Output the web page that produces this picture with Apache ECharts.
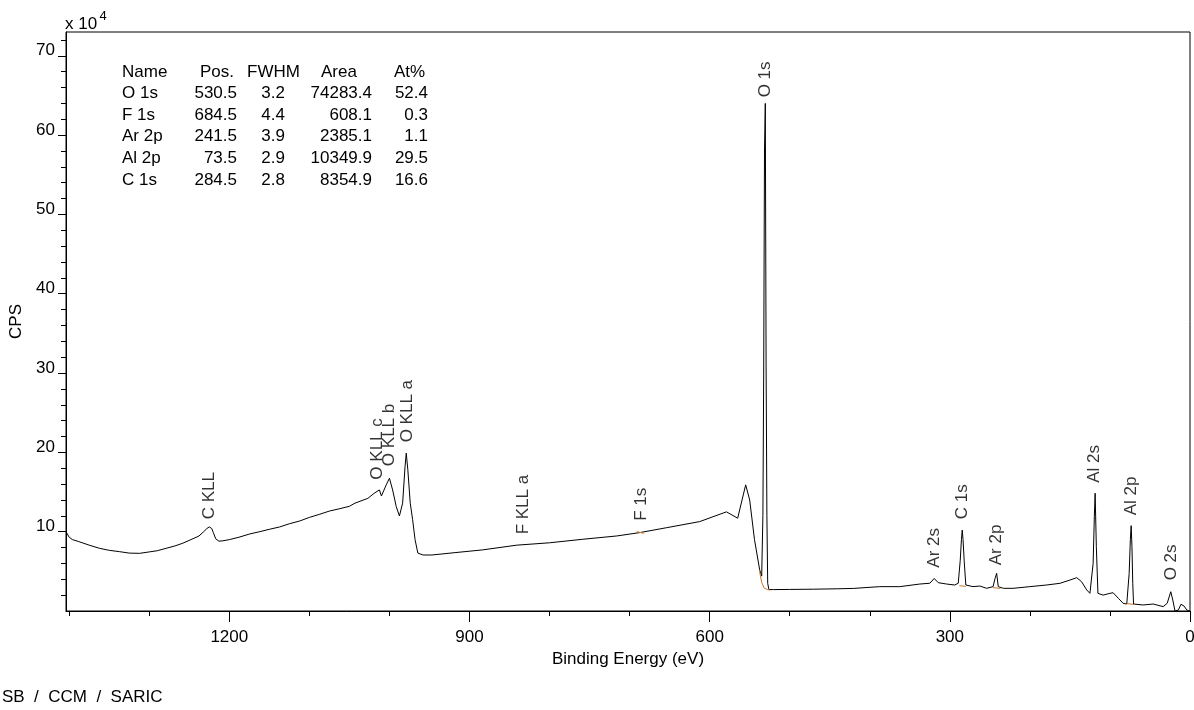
<!DOCTYPE html>
<html><head><meta charset="utf-8">
<script src="https://cdn.jsdelivr.net/npm/echarts@6/dist/echarts.min.js"></script>
<style>html,body{margin:0;padding:0;background:#fff}#c{width:1194px;height:710px}</style>
</head><body><div id="c"></div>
<script>
// Spectrum: binding energy (eV) and counts (x 10^4 CPS)
const energies = [1404,1400,1396,1388,1375,1362,1350,1337,1325,1312,1300,1290,1279,1268,1258,1248,1238,1232,1228,1225,1222,1220,1217,1213,1208,1200,1188,1175,1162,1150,1137,1125,1112,1100,1087,1075,1062,1050,1043,1027,1019,1012.5,1010,1004,1000,996,991.5,987.5,983.5,980.5,979,977,974,971,968,964.5,958,947,918,884,841,800,759,716,687.5,654,612.5,579,565,555,550,544,537.5,535,533.5,532.5,531.5,530.5,529.5,528.5,527.5,526,520,500,470,440,420,387.5,362.5,337.5,325,319.5,314.5,304,294,289.5,287,285.5,284.5,283.5,282,280,271,262.5,254,246,243.5,241.5,239.5,233,221,200,179,162.5,150,141.5,135.5,129,125,121,119.5,118.5,117,115,108.5,100,96,89.5,83.5,79,76,74.5,73.5,72.5,71.5,70.5,58.5,46,33.5,28.5,24,21.5,18.75,14.5,11.25,7.5,4,1,0];
const counts   = [10.0,9.3,9.0,8.75,8.3,7.9,7.65,7.48,7.3,7.27,7.45,7.6,7.9,8.2,8.55,9.0,9.45,10.0,10.4,10.6,10.4,9.9,9.1,8.8,8.85,9.0,9.3,9.7,10.0,10.3,10.6,11.0,11.35,11.8,12.2,12.6,12.9,13.2,13.6,14.2,14.85,15.26,14.5,15.9,16.74,15.26,13.16,11.98,13.6,18.2,19.9,17.8,13.6,11.5,9.0,7.3,7.06,7.06,7.36,7.7,8.3,8.6,9.04,9.46,9.88,10.5,11.27,12.5,11.7,15.9,14.0,9.0,5.17,4.4,12,30,58,64,31,12,3.5,2.7,2.7,2.72,2.75,2.8,2.85,3.07,3.07,3.4,3.5,4.1,3.57,3.4,3.28,3.5,6.4,9.0,10.2,9.0,6.2,3.28,3.07,3.15,2.86,3.07,4.1,4.75,3.07,2.86,2.86,3.07,3.28,3.49,3.9,4.2,3.7,2.65,2.23,6.0,11.9,14.85,8.1,2.23,2.0,2.23,2.3,1.6,0.97,0.88,4.75,9.0,10.76,8.1,3.5,0.88,0.76,0.88,0.55,0.97,2.43,1.39,0,0.13,0.85,0.63,0.13,0,0];

// Fitted backgrounds (orange)
const bgO1sE = [538,535,532,528,525];   const bgO1sV = [5.2,3.6,2.9,2.7,2.65];
const bgF1sE = [691,682];               const bgF1sV = [10.0,9.8];
const bgC1sE = [288,280];               const bgC1sV = [3.2,3.1];
const bgAr2pE = [246,237];              const bgAr2pV = [2.95,2.85];
const bgAl2pE = [79,69];                const bgAl2pV = [0.95,0.8];

// Peak annotations
const peakLabels      = ['C KLL','O KLL c','O KLL b','O KLL a','F KLL a','F 1s','O 1s','Ar 2s','C 1s','Ar 2p','Al 2s','Al 2p','O 2s'];
const peakLabelEnergy = [1225,1015.5,1000,977.5,832.5,685.5,530.5,320,284.5,241.5,119.5,73.5,23];
const peakLabelHeight = [11.5,16.5,18.2,21.2,9.6,11.3,64.7,5.4,11.5,5.7,16.1,12.0,3.8];

// Axis ticks
const xTickMajor = [0,300,600,900,1200];
const xTickMinor = [100,200,400,500,700,800,1000,1100,1300,1400];
const yTickMajor = [10,20,30,40,50,60,70];
const yTickMinor = [2,4,6,8,12,14,16,18,22,24,26,28,32,34,36,38,42,44,46,48,52,54,56,58,62,64,66,68,72];

// Quantification table
const tableHeader = ['Name','Pos.','FWHM','Area','At%'];
const tableNames = ['O 1s','F 1s','Ar 2p','Al 2p','C 1s'];
const tablePos   = [530.5,684.5,241.5,73.5,284.5];
const tableFWHM  = [3.2,4.4,3.9,2.9,2.8];
const tableArea  = [74283.4,608.1,2385.1,10349.9,8354.9];
const tableAt    = [52.4,0.3,1.1,29.5,16.6];

const FONT = '"Liberation Sans", Arial, sans-serif';
const chart = echarts.init(document.getElementById('c'), null, {renderer:'canvas'});

function pairs(e, v){ return e.map((x,i)=>[x, v[i]]); }
function bgSeries(e, v){
  return {type:'line', data:pairs(e,v), showSymbol:false, symbol:'none', silent:true,
    lineStyle:{color:'#c8782d', width:1}, z:3, animation:false};
}

// table graphics
const g = [];
const rowY0 = 72, rowStep = 21.6;
const txt = (t, x, y, align) => ({type:'text', silent:true, style:{text:t, x:x, y:y, font:'17px '+FONT, fill:'#000', align:align, verticalAlign:'middle'}});
g.push(txt(tableHeader[0],122,rowY0,'left'));
g.push(txt(tableHeader[1],234,rowY0,'right'));
g.push(txt(tableHeader[2],247,rowY0,'left'));
g.push(txt(tableHeader[3],321,rowY0,'left'));
g.push(txt(tableHeader[4],394,rowY0,'left'));
tableNames.forEach((n,i)=>{
  const y = rowY0 + rowStep*(i+1);
  g.push(txt(n,122,y,'left'));
  g.push(txt(tablePos[i].toFixed(1),237,y,'right'));
  g.push(txt(tableFWHM[i].toFixed(1),285,y,'right'));
  g.push(txt(tableArea[i].toFixed(1),372,y,'right'));
  g.push(txt(tableAt[i].toFixed(1),428,y,'right'));
});
g.push({type:'text', silent:true, style:{text:'x 10', x:65, y:24, font:'17px '+FONT, fill:'#000', align:'left', verticalAlign:'middle'}});
g.push({type:'text', silent:true, style:{text:'4', x:99.5, y:16, font:'13px '+FONT, fill:'#000', align:'left', verticalAlign:'middle'}});
g.push({type:'text', silent:true, style:{text:'SB  /  CCM  /  SARIC', x:2, y:697, font:'17px '+FONT, fill:'#000', align:'left', verticalAlign:'middle'}});

const axisBase = {lineStyle:{color:'#000', width:1}};
const option = {
  animation:false,
  backgroundColor:'#fff',
  grid:{left:66, right:4, top:32, bottom:99, show:true, borderColor:'#000', borderWidth:1, backgroundColor:'transparent', containLabel:false, outerBoundsMode:'none'},
  xAxis:[
    {type:'value', min:0, max:1404, inverse:true, position:'bottom',
     axisLine:{show:true, onZero:false, ...axisBase},
     axisTick:{show:true, customValues:xTickMajor, length:11, inside:false, ...axisBase},
     axisLabel:{customValues:xTickMajor, margin:18, fontSize:17, fontFamily:FONT, color:'#000', formatter:(v)=>String(v)},
     splitLine:{show:false},
     name:'Binding Energy (eV)', nameLocation:'middle', nameGap:40,
     nameTextStyle:{fontSize:17, fontFamily:FONT, color:'#000'}},
    {type:'value', min:0, max:1404, inverse:true, position:'bottom', offset:0,
     axisLine:{show:false, onZero:false}, axisTick:{show:true, customValues:xTickMinor, length:5, ...axisBase},
     axisLabel:{show:false}, splitLine:{show:false}}
  ],
  yAxis:[
    {type:'value', min:0, max:73, position:'left',
     axisLine:{show:true, onZero:false, ...axisBase},
     axisTick:{show:true, customValues:yTickMajor, length:8, ...axisBase},
     axisLabel:{customValues:yTickMajor, margin:11, fontSize:17, fontFamily:FONT, color:'#000', verticalAlign:'bottom', lineHeight:10, formatter:(v)=>String(v)},
     splitLine:{show:false},
     name:'CPS', nameLocation:'middle', nameGap:32, nameRotate:90,
     nameTextStyle:{fontSize:17, fontFamily:FONT, color:'#000'}},
    {type:'value', min:0, max:73, position:'left', offset:0,
     axisLine:{show:false, onZero:false}, axisTick:{show:true, customValues:yTickMinor, length:5, ...axisBase},
     axisLabel:{show:false}, splitLine:{show:false}}
  ],
  series:[
    {type:'line', xAxisIndex:0, yAxisIndex:0, data:pairs(energies,counts), showSymbol:false, symbol:'none', silent:true,
     lineStyle:{color:'#000', width:1}, z:2},
    bgSeries(bgO1sE,bgO1sV), bgSeries(bgF1sE,bgF1sV), bgSeries(bgC1sE,bgC1sV), bgSeries(bgAr2pE,bgAr2pV), bgSeries(bgAl2pE,bgAl2pV),
    {type:'scatter', xAxisIndex:0, yAxisIndex:0, silent:true, symbolSize:1, itemStyle:{color:'rgba(0,0,0,0)'},
     data:peakLabelEnergy.map((e,i)=>({name:peakLabels[i], value:[e, peakLabelHeight[i]]})),
     label:{show:true, formatter:'{b}', position:'top', distance:0, rotate:90, align:'left', verticalAlign:'middle',
       fontSize:17, fontFamily:FONT, color:'#000'}, z:4}
  ],
  graphic:g
};
chart.setOption(option);
</script></body></html>
